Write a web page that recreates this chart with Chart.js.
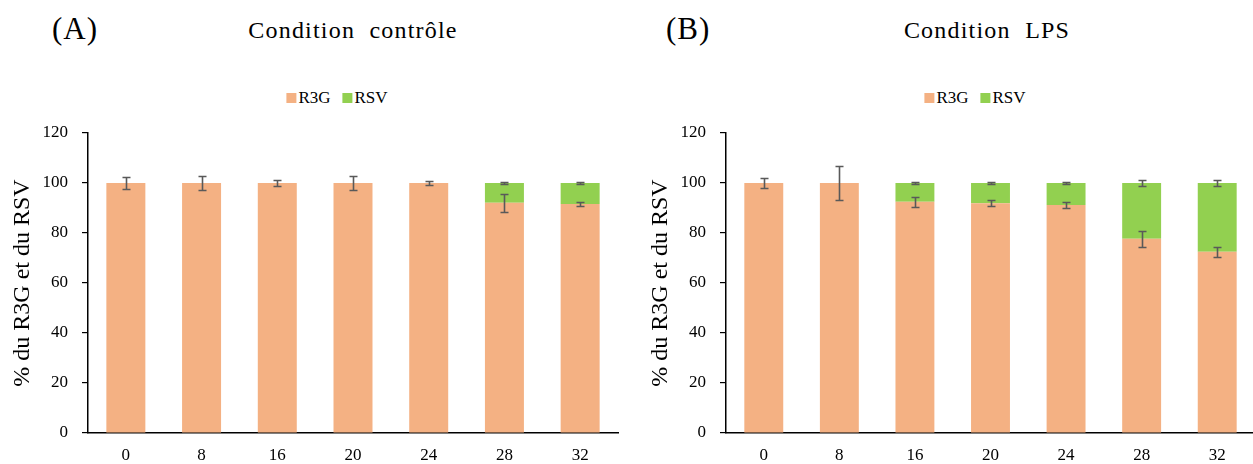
<!DOCTYPE html>
<html>
<head>
<meta charset="utf-8">
<script src="https://cdn.jsdelivr.net/npm/chart.js@4.4.0/dist/chart.umd.min.js"></script>
<style>
    body { margin: 0; width: 1253px; height: 464px; overflow: hidden; background: #fff; position: relative;
           font-family: "Liberation Serif", "Times New Roman", serif; color: #000; }
    .panel { position: absolute; top: 0; height: 464px; }
    .tag { position: absolute; top: 13px; font-size: 31px; line-height: 1; letter-spacing: 1px; }
    .title { position: absolute; top: 18px; font-size: 24px; line-height: 1; letter-spacing: 1.2px; white-space: pre; transform: translateX(-50%); }
    .legend { position: absolute; top: 89px; font-size: 17px; line-height: 1; white-space: nowrap; transform: translateX(-50%); }
    .legend span.box { display: inline-block; width: 10px; height: 10px; margin-right: 2px; vertical-align: 0; }
    .legend span.item { margin-right: 12px; }
    .legend span.item:last-child { margin-right: 0; }
</style>
</head>
<body>

<div class="tag" style="left:52px">(A)</div>
<div class="title" style="left:353px">Condition  contrôle</div>
<div class="legend" id="legendA" style="left:337px"></div>
<div class="panel" style="left:0; width:640px"><canvas id="chartA"></canvas></div>

<div class="tag" style="left:666px">(B)</div>
<div class="title" style="left:987px">Condition  LPS</div>
<div class="legend" id="legendB" style="left:975px"></div>
<div class="panel" style="left:640px; width:615px"><canvas id="chartB"></canvas></div>

<script>
// time points (x axis)
const timeLabels = ["0", "8", "16", "20", "24", "28", "32"];
const seriesNames = ["R3G", "RSV"];

// (A) condition contrôle, % of total
const ctrlR3G = [100, 100, 100, 100, 100, 92.1, 91.6];
const ctrlRSV = [0, 0, 0, 0, 0, 7.9, 8.4];
const ctrlR3GErr = [2.5, 2.8, 1.2, 2.8, 0.8, 3.5, 0.8];
const ctrlRSVErr = [0, 0, 0, 0, 0, 0.2, 0.2];

// (B) condition LPS
const lpsR3G = [100, 100, 92.5, 91.9, 91.2, 77.7, 72.5];
const lpsRSV = [0, 0, 7.5, 8.1, 8.8, 22.3, 27.5];
const lpsR3GErr = [2, 6.8, 2.1, 1.2, 1.3, 3.3, 1.9];
const lpsRSVErr = [0, 0, 0.5, 0.2, 0.5, 1.2, 1.3];

const yMax = 120;
const yStep = 20;

const colors = ["#F4B183", "#92D050"];
const FONT = "'Liberation Serif', 'Times New Roman', serif";

// draws the error bars on top of each stacked segment
const errorBars = {
    id: "errorBars",
    afterDatasetsDraw(chart) {
        const ctx = chart.ctx;
        const y = chart.scales.y;
        const sets = chart.data.datasets;
        ctx.save();
        ctx.strokeStyle = "#595959";
        ctx.lineWidth = 1.6;
        sets.forEach((ds, d) => {
            const meta = chart.getDatasetMeta(d);
            meta.data.forEach((bar, i) => {
                if (!ds.data[i]) return;
                let top = 0;
                for (let k = 0; k <= d; k++) top += sets[k].data[i];
                const e = ds.errors[i];
                const y1 = Math.round(y.getPixelForValue(top + e)) + 0.5;
                const y2 = Math.round(y.getPixelForValue(top - e)) + 0.5;
                const x = Math.round(bar.x) + 0.5;
                ctx.beginPath();
                ctx.moveTo(x, y1); ctx.lineTo(x, y2);
                ctx.moveTo(x - 4, y1); ctx.lineTo(x + 4, y1);
                ctx.moveTo(x - 4, y2); ctx.lineTo(x + 4, y2);
                ctx.stroke();
            });
        });
        ctx.restore();
    }
};

function makeLegend(id) {
    document.getElementById(id).innerHTML = seriesNames.map((n, i) =>
        '<span class="item"><span class="box" style="background:' + colors[i] + '"></span>' + n + '</span>'
    ).join("");
}

function makeChart(id, r3g, rsv, r3gErr, rsvErr, padLeft, padRight) {
    const ctx = document.getElementById(id).getContext("2d");
    return new Chart(ctx, {
        type: "bar",
        data: {
            labels: timeLabels,
            datasets: [
                { label: seriesNames[0], data: r3g, errors: r3gErr, backgroundColor: colors[0] },
                { label: seriesNames[1], data: rsv, errors: rsvErr, backgroundColor: colors[1] }
            ]
        },
        options: {
            responsive: true,
            maintainAspectRatio: false,
            animation: false,
            datasets: { bar: { barPercentage: 0.515, categoryPercentage: 1 } },
            layout: { padding: { left: padLeft, right: padRight, top: 133, bottom: 0 } },
            plugins: {
                legend: { display: false },
                title: { display: false },
                tooltip: { enabled: false }
            },
            scales: {
                x: {
                    stacked: true,
                    grid: { drawOnChartArea: false, drawTicks: false },
                    border: { color: "#000", width: 1.5 },
                    ticks: { color: "#000", padding: 12, font: { family: FONT, size: 17 } },
                    afterFit: s => { s.height = 31; }
                },
                y: {
                    stacked: true,
                    min: 0,
                    max: yMax,
                    grid: { drawOnChartArea: false, tickLength: 6, color: "#000", lineWidth: 1.2 },
                    border: { color: "#000", width: 1.5 },
                    ticks: { stepSize: yStep, color: "#000", padding: 14, font: { family: FONT, size: 17 } },
                    title: { display: true, text: "% du R3G et du RSV", color: "#000", padding: 0,
                             font: { family: FONT, size: 24 } },
                    afterFit: s => { s.width = 80; }
                }
            }
        },
        plugins: [errorBars]
    });
}

makeLegend("legendA");
makeLegend("legendB");

// wait for the serif font so the canvas text does not fall back
Promise.all([
    document.fonts.load("17px 'Liberation Serif'"),
    document.fonts.load("24px 'Liberation Serif'")
]).catch(() => {}).then(() => {
    makeChart("chartA", ctrlR3G, ctrlRSV, ctrlR3GErr, ctrlRSVErr, 8, 22);
    makeChart("chartB", lpsR3G, lpsRSV, lpsR3GErr, lpsRSVErr, 6, 0);
});
</script>
</body>
</html>
